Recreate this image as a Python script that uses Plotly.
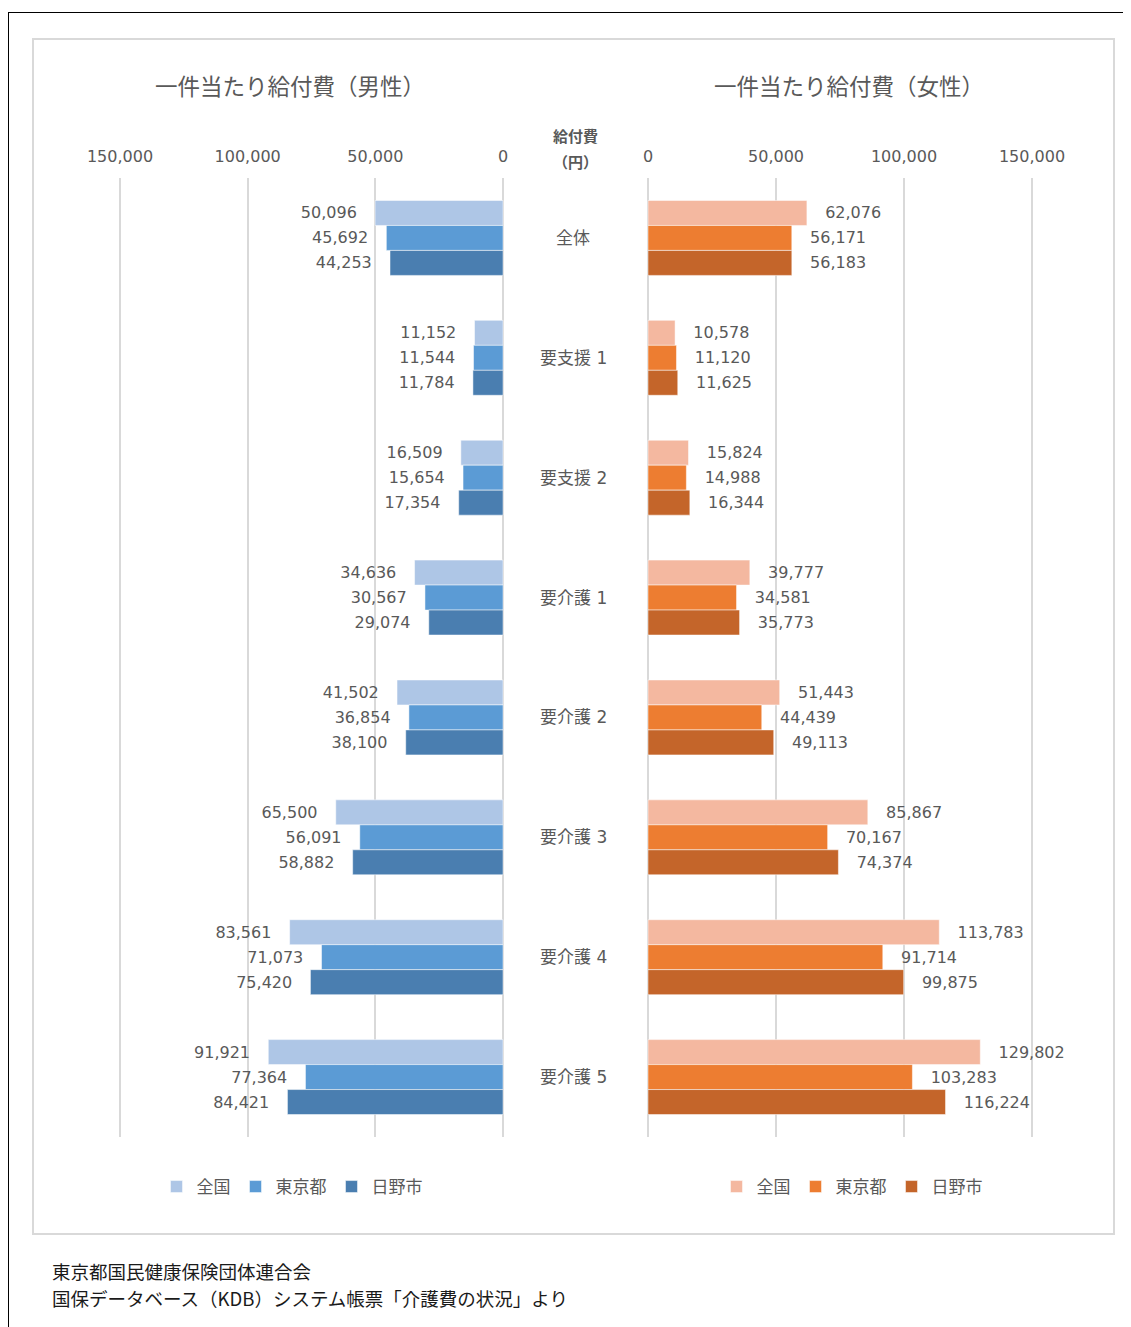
import plotly.graph_objects as go

categories = ["全体", "要支援 1", "要支援 2", "要介護 1", "要介護 2", "要介護 3", "要介護 4", "要介護 5"]
series_names = ["全国", "東京都", "日野市"]

male_national = [50096, 11152, 16509, 34636, 41502, 65500, 83561, 91921]
male_tokyo = [45692, 11544, 15654, 30567, 36854, 56091, 71073, 77364]
male_hino = [44253, 11784, 17354, 29074, 38100, 58882, 75420, 84421]

female_national = [62076, 10578, 15824, 39777, 51443, 85867, 113783, 129802]
female_tokyo = [56171, 11120, 14988, 34581, 44439, 70167, 91714, 103283]
female_hino = [56183, 11625, 16344, 35773, 49113, 74374, 99875, 116224]

tick_vals = [0, 50000, 100000, 150000]

W, H = 1131, 1327
FONT = "DejaVu Sans, Noto Sans CJK JP"
JP = "Noto Sans CJK JP"
GRAY = "#595959"
male_colors = ["#AEC6E6", "#5B9BD5", "#4A7EB0"]
female_colors = ["#F4B8A0", "#ED7D31", "#C4652A"]

# the page body adds an 8px offset, so positions are given in screen pixels minus 8
OFF = 8


def px(x):
    return (x - OFF) / W


def py(y):
    return 1 - (y - OFF) / H


fig = go.Figure()

for name, vals, col in zip(series_names, [male_national, male_tokyo, male_hino], male_colors):
    fig.add_trace(go.Bar(
        y=categories, x=vals, name=name, orientation="h",
        marker=dict(color=col, line=dict(color="white", width=0.5)),
        texttemplate="%{x:,}\u00a0\u00a0\u00a0", textposition="outside",
        textfont=dict(color=GRAY, size=16, family=FONT), cliponaxis=False,
        xaxis="x", yaxis="y", legend="legend", hoverinfo="x+name",
    ))

for name, vals, col in zip(series_names, [female_national, female_tokyo, female_hino], female_colors):
    fig.add_trace(go.Bar(
        y=categories, x=vals, name=name, orientation="h",
        marker=dict(color=col, line=dict(color="white", width=0.5)),
        texttemplate="\u00a0\u00a0\u00a0%{x:,}", textposition="outside",
        textfont=dict(color=GRAY, size=16, family=FONT), cliponaxis=False,
        xaxis="x2", yaxis="y2", legend="legend2", hoverinfo="x+name",
    ))

# about 384 px for 150,000 on each side; pad the range slightly so edge gridlines show
k = 384 / 150000
pad = 1000
ydom = [py(1137), py(178)]
axis_common = dict(
    side="top", tickvals=tick_vals, tickformat=",", showgrid=True,
    gridcolor="#D9D9D9", gridwidth=2, zeroline=False, showline=False,
    tickfont=dict(color=GRAY, size=16, family=FONT), ticks="", ticklabelstandoff=12,
)
leg_common = dict(orientation="h", xanchor="center", yanchor="middle",
                  font=dict(size=17, color=GRAY, family=JP), bgcolor="rgba(0,0,0,0)",
                  itemwidth=30)
fig.update_layout(
    width=W, height=H,
    margin=dict(l=0, r=0, t=0, b=0, autoexpand=False),
    paper_bgcolor="white", plot_bgcolor="white",
    font=dict(family=FONT, color=GRAY),
    barmode="group", bargap=0.375, bargroupgap=0,
    xaxis=dict(domain=[px(120 - pad * k), px(503 + pad * k)], range=[150000 + pad, -pad],
               anchor="y", **axis_common),
    xaxis2=dict(domain=[px(648 - pad * k), px(1032 + pad * k)], range=[-pad, 150000 + pad],
                anchor="y2", **axis_common),
    yaxis=dict(domain=ydom, autorange="reversed", showticklabels=False, showgrid=False,
               anchor="x", type="category"),
    yaxis2=dict(domain=ydom, autorange="reversed", showticklabels=False, showgrid=False,
                anchor="x2", type="category"),
    legend=dict(x=px(292), y=py(1187), **leg_common),
    legend2=dict(x=px(852), y=py(1187), **leg_common),
    showlegend=True,
)


def note(x, y, text, size, color=GRAY, family=JP, xanchor="center"):
    return dict(x=px(x), y=py(y), xref="paper", yref="paper", text=text, showarrow=False,
                xanchor=xanchor, yanchor="middle", font=dict(size=size, color=color, family=family))


annotations = []
for c in categories:
    annotations.append(dict(x=px(573), xref="paper", y=c, yref="y", text=c, showarrow=False,
                            xanchor="center", yanchor="middle",
                            font=dict(size=17, color=GRAY, family=FONT)))
annotations += [
    note(290, 85, "一件当たり給付費（男性）", 22.5),
    note(849, 85, "一件当たり給付費（女性）", 22.5),
    note(575, 135, "<b>給付費</b>", 15),
    note(575, 162, "<b>（円）</b>", 15),
    note(50, 1271, "東京都国民健康保険団体連合会", 18.5, "#1a1a1a", xanchor="left"),
    note(50, 1298, "国保データベース（KDB）システム帳票「介護費の状況」より", 18.5, "#1a1a1a",
         xanchor="left"),
]
fig.update_layout(annotations=annotations)

fig.update_layout(shapes=[
    dict(type="rect", xref="paper", yref="paper", x0=px(33), x1=px(1114), y0=py(1234), y1=py(39),
         line=dict(color="#D9D9D9", width=2)),
    dict(type="line", xref="paper", yref="paper", x0=px(8), x1=1, y0=py(12.5), y1=py(12.5),
         line=dict(color="black", width=1)),
    dict(type="line", xref="paper", yref="paper", x0=px(8.5), x1=px(8.5), y0=py(12), y1=0,
         line=dict(color="black", width=1)),
])

fig.write_html("out.html")
